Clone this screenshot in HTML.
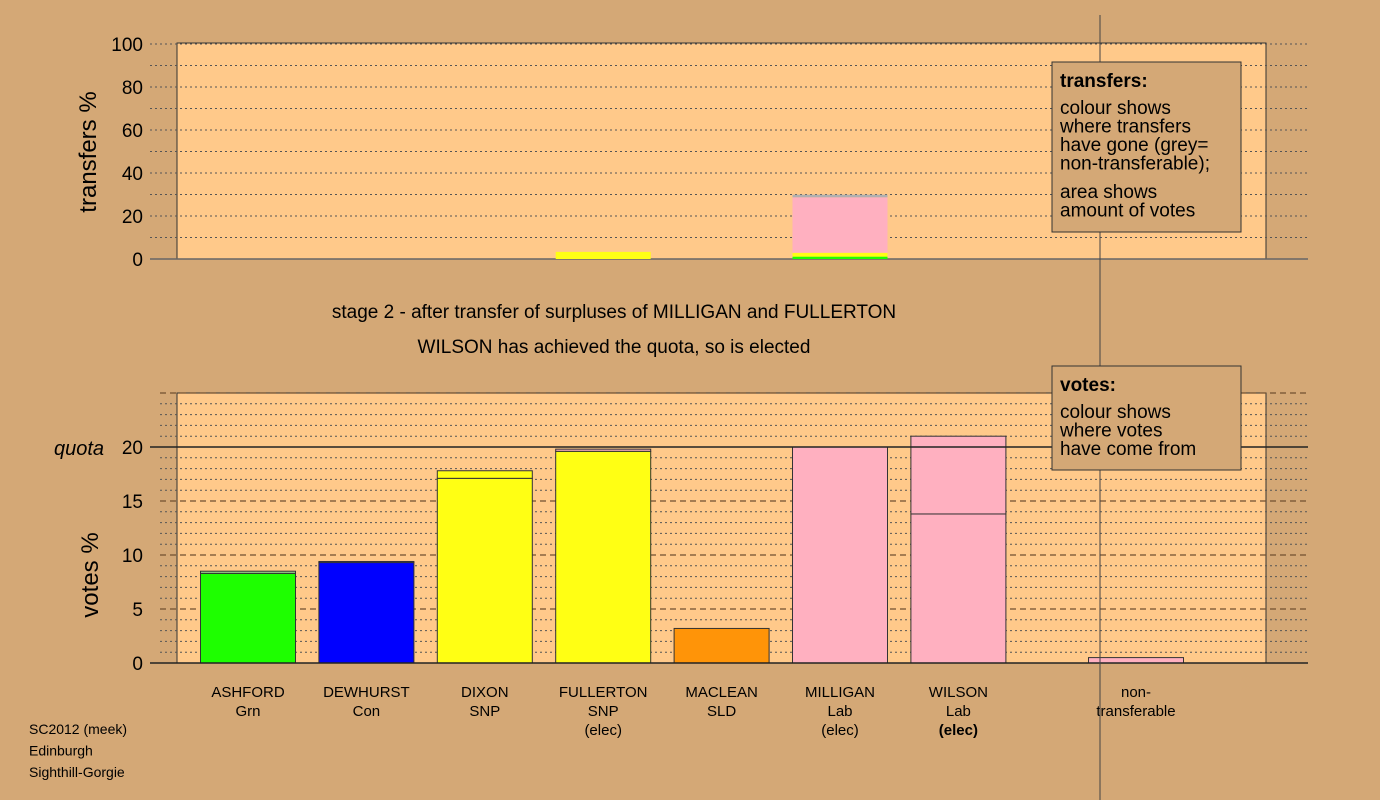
<!DOCTYPE html>
<html><head><meta charset="utf-8"><style>
html,body{margin:0;padding:0;background:#d4a876;}
svg{display:block;font-family:"Liberation Sans",sans-serif;}
</style></head><body>
<svg id="chart" width="1380" height="800" viewBox="0 0 1380 800"></svg>
<script>
const candidates=["ASHFORD","DEWHURST","DIXON","FULLERTON","MACLEAN","MILLIGAN","WILSON"];
const parties=["Grn","Con","SNP","SNP","SLD","Lab","Lab"];
const elected=["","","","(elec)","","(elec)","(elec)"];
const baseColors=["#1eff00","#0000ff","#ffff14","#ffff14","#ff9408","#ffb0c0","#ffb0c0"];
const voteBase=[8.3,9.3,17.1,19.6,3.2,20.0,13.8];
const voteTop=[8.5,9.4,17.8,19.8,3.2,20.0,21.0];
const topColors=["#a0d090","#2020c0","#ffff14","#ffb0c0","#ff9408","#ffb0c0","#ffb0c0"];
const nonTransferable=0.5;
const quota=20;
const voteTicks=[0,5,10,15,20];
const transferTicks=[0,20,40,60,80,100];
// transfers: [candidateIndex, [from,to,color]]
const transferSegs=[
 [3,0,3.3,"#ffff14"],
 [5,0,1.1,"#1eff00"],
 [5,1.1,2.9,"#ffff14"],
 [5,2.9,28.7,"#ffb0c0"],
 [5,28.7,29.9,"#b0b0b0"]
];
const svg=document.getElementById('chart');
const NS="http://www.w3.org/2000/svg";
function el(t,a,p){const e=document.createElementNS(NS,t);for(const k in a)e.setAttribute(k,a[k]);(p||svg).appendChild(e);return e;}
const px0=177,px1=1266;
const xc=i=>248+i*118.4;
const ntx=1136;
const yV=v=>663-v*10.8;
const yT=v=>259-v*2.15;
const bw=95;

// top panel
let r=el('rect',{x:px0,y:43,width:px1-px0,height:216,fill:'#ffc98a',stroke:'#333','stroke-width':1});

for(let v=10;v<=100;v+=10){let l=el('line',{x1:150,x2:1308,y1:yT(v),y2:yT(v),stroke:'#555','stroke-dasharray':'2,3','stroke-width':1});
}
el('line',{x1:150,x2:1308,y1:259,y2:259,stroke:'#666','stroke-width':1.5});
transferTicks.forEach(v=>{let t=el('text',{x:143,y:yT(v)+7,'text-anchor':'end','font-size':19,fill:'#000'});t.textContent=v;
});
let yt=el('text',{x:0,y:0,transform:'translate(96,152) rotate(-90)','text-anchor':'middle','font-size':24});yt.textContent='transfers %';

transferSegs.forEach(s=>{let b=el('rect',{x:xc(s[0])-bw/2,y:yT(s[2]),width:bw,height:yT(s[1])-yT(s[2]),fill:s[3]});
});

// titles
let t1=el('text',{x:614,y:318,'text-anchor':'middle','font-size':19});t1.textContent='stage 2 - after transfer of surpluses of MILLIGAN and FULLERTON';

let t2=el('text',{x:614,y:353,'text-anchor':'middle','font-size':19});t2.textContent='WILSON has achieved the quota, so is elected';


// bottom panel
r=el('rect',{x:px0,y:393,width:px1-px0,height:270,fill:'#ffc98a',stroke:'#333','stroke-width':1});

for(let v=1;v<=25;v++){if(v===20)continue;const major=v%5===0;
let l=el('line',{x1:160,x2:1308,y1:yV(v),y2:yV(v),stroke:major?'#705030':'#555','stroke-dasharray':major?'6,4':'2,3','stroke-width':major?1.3:1});
}
voteTicks.forEach(v=>{let t=el('text',{x:143,y:yV(v)+7,'text-anchor':'end','font-size':19});t.textContent=v;
});
let q=el('text',{x:54,y:yV(quota)+8,'font-size':20,'font-style':'italic'});q.textContent='quota';

let yv=el('text',{x:0,y:0,transform:'translate(98,575) rotate(-90)','text-anchor':'middle','font-size':24});yv.textContent='votes %';


candidates.forEach((c,i)=>{
 let b=el('rect',{x:xc(i)-bw/2,y:yV(voteBase[i]),width:bw,height:yV(0)-yV(voteBase[i]),fill:baseColors[i],stroke:'#333','stroke-width':1});
 
 if(voteTop[i]>voteBase[i]){let s=el('rect',{x:xc(i)-bw/2,y:yV(voteTop[i]),width:bw,height:yV(voteBase[i])-yV(voteTop[i]),fill:topColors[i],stroke:'#333','stroke-width':1});
 }
 [c,parties[i],elected[i]].forEach((s,k)=>{if(!s)return;let t=el('text',{x:xc(i),y:697+k*19,'text-anchor':'middle','font-size':15,'font-weight':(i===6&&k===2)?'bold':'normal'});t.textContent=s;
 });
});
let nt=el('rect',{x:ntx-bw/2,y:yV(nonTransferable),width:bw,height:yV(0)-yV(nonTransferable),fill:'#ffb0c0',stroke:'#333'});

['non-','transferable'].forEach((s,k)=>{let t=el('text',{x:ntx,y:697+k*19,'text-anchor':'middle','font-size':15});t.textContent=s;
});
el('line',{x1:150,x2:1308,y1:yV(quota),y2:yV(quota),stroke:'#222','stroke-width':1.5});
el('line',{x1:150,x2:1308,y1:663,y2:663,stroke:'#222','stroke-width':1.5});
el('line',{x1:1100,x2:1100,y1:15,y2:800,stroke:'#444','stroke-width':1});

// legends
function legend(y,h,title,lines,name,gapTop){
 let g=el('g',{});
 el('rect',{x:1052,y:y,width:189,height:h,fill:'#d4a876',stroke:'#333'},g);
 let t=el('text',{x:1060,y:y+25,'font-size':19,'font-weight':'bold'},g);t.textContent=title;
 lines.forEach((s,k)=>{let tt=el('text',{x:1060,y:y+52+k*18.5+(s.gap||0),'font-size':19},g);tt.textContent=s.t;});
}
legend(62,170,'transfers:',[{t:'colour shows'},{t:'where transfers'},{t:'have gone (grey='},{t:'non-transferable);'},{t:'area shows',gap:10},{t:'amount of votes',gap:10}],'transfers-legend');
legend(366,104,'votes:',[{t:'colour shows'},{t:'where votes'},{t:'have come from'}],'votes-legend');

['SC2012 (meek)','Edinburgh','Sighthill-Gorgie'].forEach((s,k)=>{let t=el('text',{x:29,y:734+k*21.5,'font-size':14});t.textContent=s;
});
</script>
</body></html>
